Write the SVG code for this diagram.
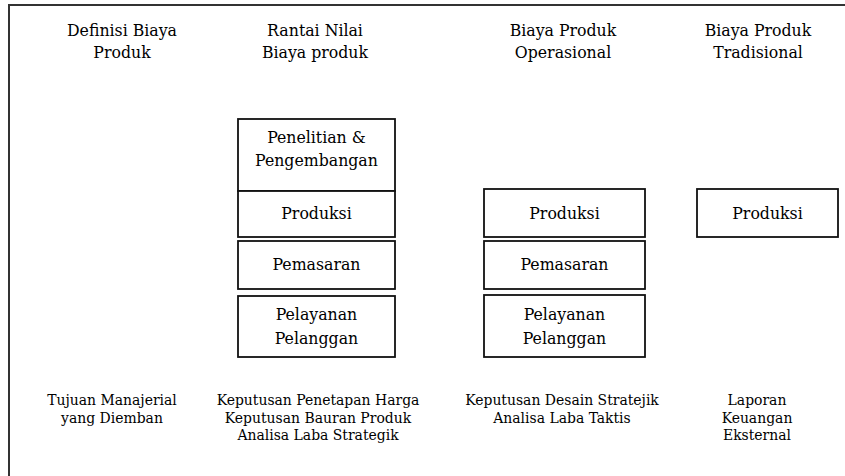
<svg xmlns="http://www.w3.org/2000/svg" width="845" height="476" viewBox="0 0 845 476">
  <style>
    .frame { fill: none; stroke: #333; stroke-width: 2; }
    .box { fill: #fff; stroke: #111; stroke-width: 1.8; }
    text { font-family: 'DejaVu Serif Condensed', 'DejaVu Serif', serif; font-stretch: condensed; fill: #000; text-anchor: middle; }
    .hd { font-size: 17.5px; }
    .lb { font-size: 17.5px; }
    .ft { font-size: 15.5px; }
  </style>
  <rect width="845" height="476" fill="#fff"/>
  <!-- page frame: only the top and left borders are in view -->
  <path class="frame" d="M9,476 V5 H845"/>

  <!-- column headings -->
  <g id="headings" class="hd">
    <text x="122" y="36">Definisi Biaya</text>
    <text x="122" y="58">Produk</text>
    <text x="315" y="36">Rantai Nilai</text>
    <text x="315" y="58">Biaya produk</text>
    <text x="563" y="36">Biaya Produk</text>
    <text x="563" y="58">Operasional</text>
    <text x="758" y="36">Biaya Produk</text>
    <text x="758" y="58">Tradisional</text>
  </g>

  <!-- value chain column -->
  <g id="vc-litbang" class="lb">
    <rect class="box" x="238" y="119" width="157" height="72"/>
    <text x="316.5" y="143">Penelitian &amp;</text>
    <text x="316.5" y="166">Pengembangan</text>
  </g>
  <g id="vc-produksi" class="lb">
    <rect class="box" x="238" y="191" width="157" height="46"/>
    <text x="316.5" y="219">Produksi</text>
  </g>
  <g id="vc-pemasaran" class="lb">
    <rect class="box" x="238" y="241" width="157" height="48"/>
    <text x="316.5" y="270">Pemasaran</text>
  </g>
  <g id="vc-pelayanan" class="lb">
    <rect class="box" x="238" y="296" width="157" height="61"/>
    <text x="316.5" y="320">Pelayanan</text>
    <text x="316.5" y="344">Pelanggan</text>
  </g>

  <!-- operational column -->
  <g id="op-produksi" class="lb">
    <rect class="box" x="484" y="189" width="161" height="48"/>
    <text x="564.5" y="219">Produksi</text>
  </g>
  <g id="op-pemasaran" class="lb">
    <rect class="box" x="484" y="241" width="161" height="48"/>
    <text x="564.5" y="270">Pemasaran</text>
  </g>
  <g id="op-pelayanan" class="lb">
    <rect class="box" x="484" y="295" width="161" height="62"/>
    <text x="564.5" y="320">Pelayanan</text>
    <text x="564.5" y="344">Pelanggan</text>
  </g>

  <!-- traditional column -->
  <g id="tr-produksi" class="lb">
    <rect class="box" x="697" y="189" width="141" height="48"/>
    <text x="767.5" y="219">Produksi</text>
  </g>

  <!-- managerial purposes -->
  <g id="purposes" class="ft">
    <text x="112" y="405">Tujuan Manajerial</text>
    <text x="112" y="422.5">yang Diemban</text>
    <text x="318" y="405">Keputusan Penetapan Harga</text>
    <text x="318" y="422.5">Keputusan Bauran Produk</text>
    <text x="318" y="440">Analisa Laba Strategik</text>
    <text x="562" y="405">Keputusan Desain Stratejik</text>
    <text x="562" y="422.5">Analisa Laba Taktis</text>
    <text x="757" y="405">Laporan</text>
    <text x="757" y="422.5">Keuangan</text>
    <text x="757" y="440">Eksternal</text>
  </g>

  <!-- no connectors in this figure -->
  <g id="connectors"/>
</svg>
